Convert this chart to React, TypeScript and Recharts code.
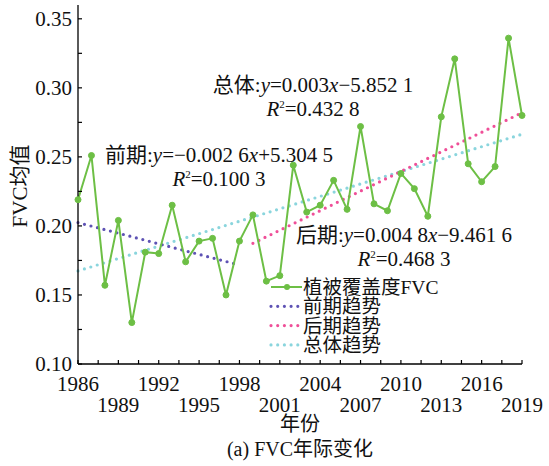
import React from 'react';
import { LineChart, Line, XAxis, YAxis } from 'recharts';

// yearly mean FVC
const years = [
  1986, 1987, 1988, 1989, 1990, 1991, 1992, 1993, 1994, 1995, 1996, 1997,
  1998, 1999, 2000, 2001, 2002, 2003, 2004, 2005, 2006, 2007, 2008, 2009,
  2010, 2011, 2012, 2013, 2014, 2015, 2016, 2017, 2018, 2019,
];
const fvc = [
  0.219, 0.251, 0.157, 0.204, 0.13, 0.181, 0.18, 0.215, 0.174, 0.189, 0.191, 0.15,
  0.189, 0.208, 0.16, 0.164, 0.244, 0.21, 0.215, 0.233, 0.212, 0.272, 0.216, 0.211,
  0.238, 0.227, 0.207, 0.279, 0.321, 0.245, 0.232, 0.243, 0.336, 0.28,
];

// trend line end points
const earlyYears = [1986, 1998];
const earlyTrend = [0.2024, 0.1717];
const lateYears = [1999, 2019];
const lateTrend = [0.1874, 0.282];
const totalYears = [1986, 2019];
const totalTrend = [0.1674, 0.2664];

// ticks
const xTicks = [
  1986, 1987.5, 1989, 1990.5, 1992, 1993.5, 1995, 1996.5, 1998, 1999.5, 2001, 2002.5,
  2004, 2005.5, 2007, 2008.5, 2010, 2011.5, 2013, 2014.5, 2016, 2017.5, 2019,
];
const xRow1 = [1986, 1992, 1998, 2004, 2010, 2016];
const xRow2 = [1989, 1995, 2001, 2007, 2013, 2019];
const yTicks = [0.1, 0.125, 0.15, 0.175, 0.2, 0.225, 0.25, 0.275, 0.3, 0.325, 0.35];
const yLabels = ['0.10', '0.15', '0.20', '0.25', '0.30', '0.35'];

const GREEN = '#6dbf45';
const PURPLE = '#5e52b4';
const PINK = '#ef4f98';
const CYAN = '#8ad5dd';
const FONT = '"Liberation Serif", "Times New Roman", "Noto Sans CJK SC", serif';

const chartData = years.map((year, i) => ({ year, fvc: fvc[i] }));
const toLine = (xs: number[], ys: number[]) => xs.map((year, i) => ({ year, v: ys[i] }));

const BottomTick = (props: any) => {
  const { x, y, payload } = props;
  const v = payload.value;
  const r1 = xRow1.includes(v);
  const r2 = xRow2.includes(v);
  return (
    <g>
      <line x1={x} x2={x} y1={y} y2={y - 4} stroke="#000" strokeWidth={1.2} />
      {(r1 || r2) && (
        <text x={x} y={y + (r1 ? 27 : 48)} textAnchor="middle" fontSize={21} fontFamily={FONT} fill="#111">
          {v}
        </text>
      )}
    </g>
  );
};

const TopTick = (props: any) => {
  const { x, y } = props;
  return <line x1={x} x2={x} y1={y} y2={y + 4} stroke="#000" strokeWidth={1.2} />;
};

const LeftTick = (props: any) => {
  const { x, y, payload } = props;
  const label = yLabels.find((l) => Math.abs(parseFloat(l) - payload.value) < 1e-6);
  return (
    <g>
      <line x1={x} x2={x + 4} y1={y} y2={y} stroke="#000" strokeWidth={1.2} />
      {label && (
        <text x={x - 6} y={y} dy="0.35em" textAnchor="end" fontSize={21} fontFamily={FONT} fill="#111">
          {label}
        </text>
      )}
    </g>
  );
};

const RightTick = (props: any) => {
  const { x, y } = props;
  return <line x1={x} x2={x - 4} y1={y} y2={y} stroke="#000" strokeWidth={1.2} />;
};

const axisLine = { stroke: '#000', strokeWidth: 1.3 };
const dotted = { strokeDasharray: '0 6.7', strokeLinecap: 'round' as const, strokeWidth: 3.2 };

const Eq = ({ cx, y, label, slope, icpt, r2 }: any) => (
  <g fontFamily={FONT} fontSize={21} fill="#111" textAnchor="middle">
    <text x={cx} y={y}>
      {label}:<tspan fontStyle="italic">y</tspan>={slope}
      <tspan fontStyle="italic">x</tspan>
      {icpt}
    </text>
    <text x={cx} y={y + 24}>
      <tspan fontStyle="italic">R</tspan>
      <tspan fontSize={11} dy={-8}>2</tspan>
      <tspan dy={8}>={r2}</tspan>
    </text>
  </g>
);

const legendItems = [
  { name: '植被覆盖度FVC', color: GREEN, solid: true },
  { name: '前期趋势', color: PURPLE, solid: false },
  { name: '后期趋势', color: PINK, solid: false },
  { name: '总体趋势', color: CYAN, solid: false },
];

export default function App() {
  return (
    <div style={{ position: 'absolute', left: 0, top: 0, width: 549, height: 466, background: '#fff' }}>
      <LineChart width={549} height={466} data={chartData} margin={{ top: 5, right: 27, bottom: 0, left: 0 }}>
        <XAxis
          dataKey="year"
          type="number"
          domain={[1986, 2019]}
          ticks={xTicks}
          interval={0}
          height={102}
          tickSize={0}
          tickMargin={0}
          tickLine={false}
          axisLine={axisLine}
          tick={<BottomTick />}
        />
        <XAxis
          xAxisId="top"
          orientation="top"
          dataKey="year"
          type="number"
          domain={[1986, 2019]}
          ticks={xTicks}
          interval={0}
          height={0}
          tickSize={0}
          tickMargin={0}
          tickLine={false}
          axisLine={axisLine}
          tick={<TopTick />}
        />
        <YAxis
          type="number"
          domain={[0.1, 0.36]}
          ticks={yTicks}
          interval={0}
          width={78}
          tickSize={0}
          tickMargin={0}
          tickLine={false}
          axisLine={axisLine}
          tick={<LeftTick />}
        />
        <YAxis
          yAxisId="right"
          orientation="right"
          type="number"
          domain={[0.1, 0.36]}
          ticks={yTicks}
          interval={0}
          width={0}
          tickSize={0}
          tickMargin={0}
          tickLine={false}
          axisLine={axisLine}
          tick={<RightTick />}
        />
        <Line data={toLine(totalYears, totalTrend)} dataKey="v" stroke={CYAN} {...dotted} dot={false} isAnimationActive={false} />
        <Line data={toLine(earlyYears, earlyTrend)} dataKey="v" stroke={PURPLE} {...dotted} dot={false} isAnimationActive={false} />
        <Line data={toLine(lateYears, lateTrend)} dataKey="v" stroke={PINK} {...dotted} dot={false} isAnimationActive={false} />
        <Line
          dataKey="fvc"
          stroke={GREEN}
          strokeWidth={2}
          dot={{ r: 3, fill: GREEN, stroke: GREEN, strokeWidth: 1 }}
          isAnimationActive={false}
        />
      </LineChart>
      <svg width={549} height={466} style={{ position: 'absolute', left: 0, top: 0, pointerEvents: 'none' }}>
        <Eq cx={313} y={92} label="总体" slope="0.003" icpt="−5.852 1" r2="0.432 8" />
        <Eq cx={219} y={162} label="前期" slope="−0.002 6" icpt="+5.304 5" r2="0.100 3" />
        <Eq cx={404} y={242} label="后期" slope="0.004 8" icpt="−9.461 6" r2="0.468 3" />
        {legendItems.map((it, i) => {
          const cy = 287 + i * 19.3;
          return (
            <g key={it.name}>
              {it.solid ? (
                <g>
                  <line x1={271} x2={302} y1={cy} y2={cy} stroke={it.color} strokeWidth={2} />
                  <circle cx={287} cy={cy} r={3} fill={it.color} />
                </g>
              ) : (
                <line x1={271} x2={302} y1={cy} y2={cy} stroke={it.color} {...dotted} />
              )}
              <text x={303} y={cy} dy="0.36em" fontSize={19.5} fontFamily={FONT} fill="#111">
                {it.name}
              </text>
            </g>
          );
        })}
        <text
          transform="translate(27,186) rotate(-90)"
          textAnchor="middle"
          fontSize={21}
          fontFamily={FONT}
          fill="#111"
        >
          FVC均值
        </text>
        <text x={300} y={431} textAnchor="middle" fontSize={20} fontFamily={FONT} fill="#111">
          年份
        </text>
        <text x={300} y={456} textAnchor="middle" fontSize={20} fontFamily={FONT} fill="#111">
          (a) FVC年际变化
        </text>
      </svg>
    </div>
  );
}
